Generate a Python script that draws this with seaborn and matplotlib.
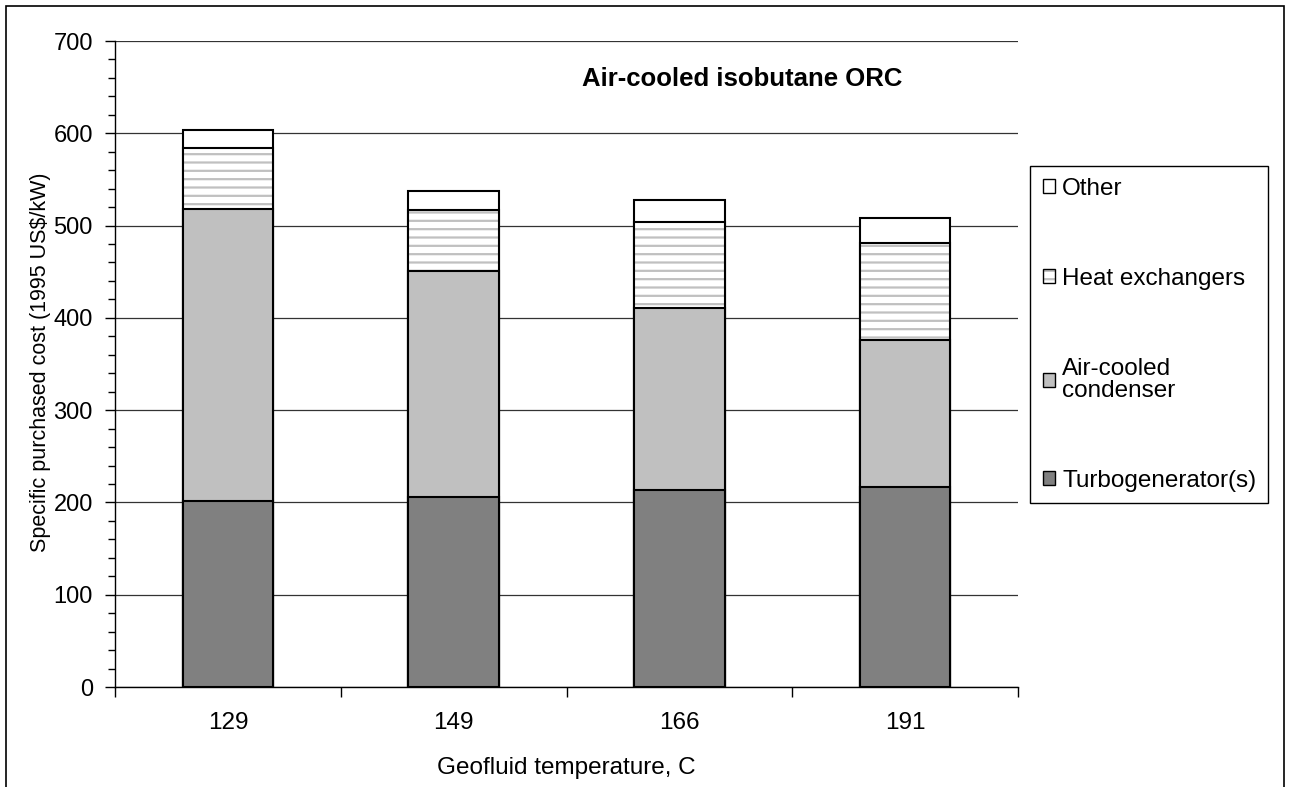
import matplotlib as mpl
import matplotlib.pyplot as plt
import pandas as pd
import seaborn as sns
from matplotlib.patches import Patch, Rectangle
from matplotlib.legend_handler import HandlerTuple
from matplotlib.ticker import MultipleLocator, FixedLocator

# values (1995 US$/kW)
temps = ['129', '149', '166', '191']
turbogenerator = [202, 206, 213, 217]
condenser = [316, 245, 198, 159]
heat_exchangers = [66, 66, 93, 105]
other = [20, 21, 24, 27]

W, H = 1291, 787

sns.set_style('white')
plt.rcParams['font.family'] = ['Liberation Sans', 'DejaVu Sans']
plt.rcParams['hatch.linewidth'] = 1.6
for key in ['text.color', 'axes.labelcolor', 'xtick.color', 'ytick.color']:
    plt.rcParams[key] = 'black'

df = pd.DataFrame({
    'temp': temps,
    'Turbogenerator(s)': turbogenerator,
    'Air-cooled condenser': condenser,
    'Heat exchangers': heat_exchangers,
    'Other': other,
})
cols = ['Turbogenerator(s)', 'Air-cooled condenser', 'Heat exchangers', 'Other']
cum = df[cols].cumsum(axis=1)

fig = plt.figure(figsize=(W / 100, H / 100), dpi=100)
ax = fig.add_axes([115 / W, 1 - 687 / H, (1018 - 115) / W, (687 - 41) / H])

hatch_grey = '#c0c0c0'

# stacked bars drawn as overlapping cumulative totals, tallest first
layers = [('Other', 'white'), ('Heat exchangers', 'white'),
          ('Air-cooled condenser', '#c0c0c0'), ('Turbogenerator(s)', '#808080')]
for name, color in layers:
    n0 = len(ax.patches)
    sns.barplot(x=df['temp'], y=cum[name], color=color, saturation=1, width=0.4,
                edgecolor='black', linewidth=1.5, errorbar=None, ax=ax, zorder=3)
    if name == 'Heat exchangers':
        for p in ax.patches[n0:]:
            p.set_hatch('--')
            try:
                p.set_hatchcolor(hatch_grey)
            except AttributeError:
                p._hatch_color = mpl.colors.to_rgba(hatch_grey)

ax.set_ylim(0, 700)
ax.set_xlim(-0.5, 3.5)
ax.yaxis.set_major_locator(MultipleLocator(100))
ax.yaxis.set_minor_locator(MultipleLocator(20))
ax.xaxis.set_minor_locator(FixedLocator([-0.5, 0.5, 1.5, 2.5, 3.5]))
ax.tick_params(axis='y', which='major', direction='out', length=7, width=1,
               color='black', labelsize=17, pad=9, left=True)
ax.tick_params(axis='y', which='minor', direction='out', length=5, width=1,
               color='black', left=True)
ax.tick_params(axis='x', which='major', length=0, labelsize=17.5, pad=18)
ax.tick_params(axis='x', which='minor', direction='out', length=7, width=1,
               color='black', bottom=True)

ax.set_axisbelow(True)
ax.yaxis.grid(True, color='#333333', linewidth=0.9)
ax.xaxis.grid(False)
for s in ['top', 'right']:
    ax.spines[s].set_visible(False)
for s in ['left', 'bottom']:
    ax.spines[s].set_color('black')
    ax.spines[s].set_linewidth(1)

ax.set_xlabel('Geofluid temperature, C', fontsize=17.5)
ax.set_ylabel('Specific purchased cost (1995 US$/kW)', fontsize=15.5)
ax.xaxis.set_label_coords(0.5, -0.108)
ax.yaxis.set_label_coords(-0.071, 0.503)

ax.text(0.695, 0.941, 'Air-cooled isobutane ORC', transform=ax.transAxes,
        ha='center', va='center', fontsize=18.5, fontweight='bold')

# legend with its own frame box
handles = [
    Patch(facecolor='white', edgecolor='black'),
    (Patch(facecolor='white', edgecolor=hatch_grey, hatch='--', linewidth=0),
     Patch(facecolor='none', edgecolor='black')),
    Patch(facecolor='#c0c0c0', edgecolor='black'),
    Patch(facecolor='#808080', edgecolor='black'),
]
labels = ['Other', 'Heat exchangers', 'Air-cooled\ncondenser', 'Turbogenerator(s)']
leg = fig.legend(handles, labels, loc='upper left', bbox_to_anchor=(1033 / W, 1 - 168 / H),
                 frameon=False, fontsize=17.5, handlelength=0.5, handleheight=0.5,
                 handletextpad=0.3, labelspacing=2.8, borderaxespad=0,
                 handler_map={tuple: HandlerTuple(ndivide=1)})
for t in leg.get_texts():
    t.set_linespacing(1.0)
fig.add_artist(Rectangle((1030 / W, 1 - 503 / H), 238 / W, 337 / H,
                         transform=fig.transFigure, fill=False,
                         edgecolor='black', linewidth=1))

# outer chart border
fig.add_artist(Rectangle((6 / W, -0.05), 1278 / W, (H - 6) / H + 0.05,
                         transform=fig.transFigure, fill=False,
                         edgecolor='black', linewidth=1.2, clip_on=False))

fig.savefig('out.png', dpi=100)
